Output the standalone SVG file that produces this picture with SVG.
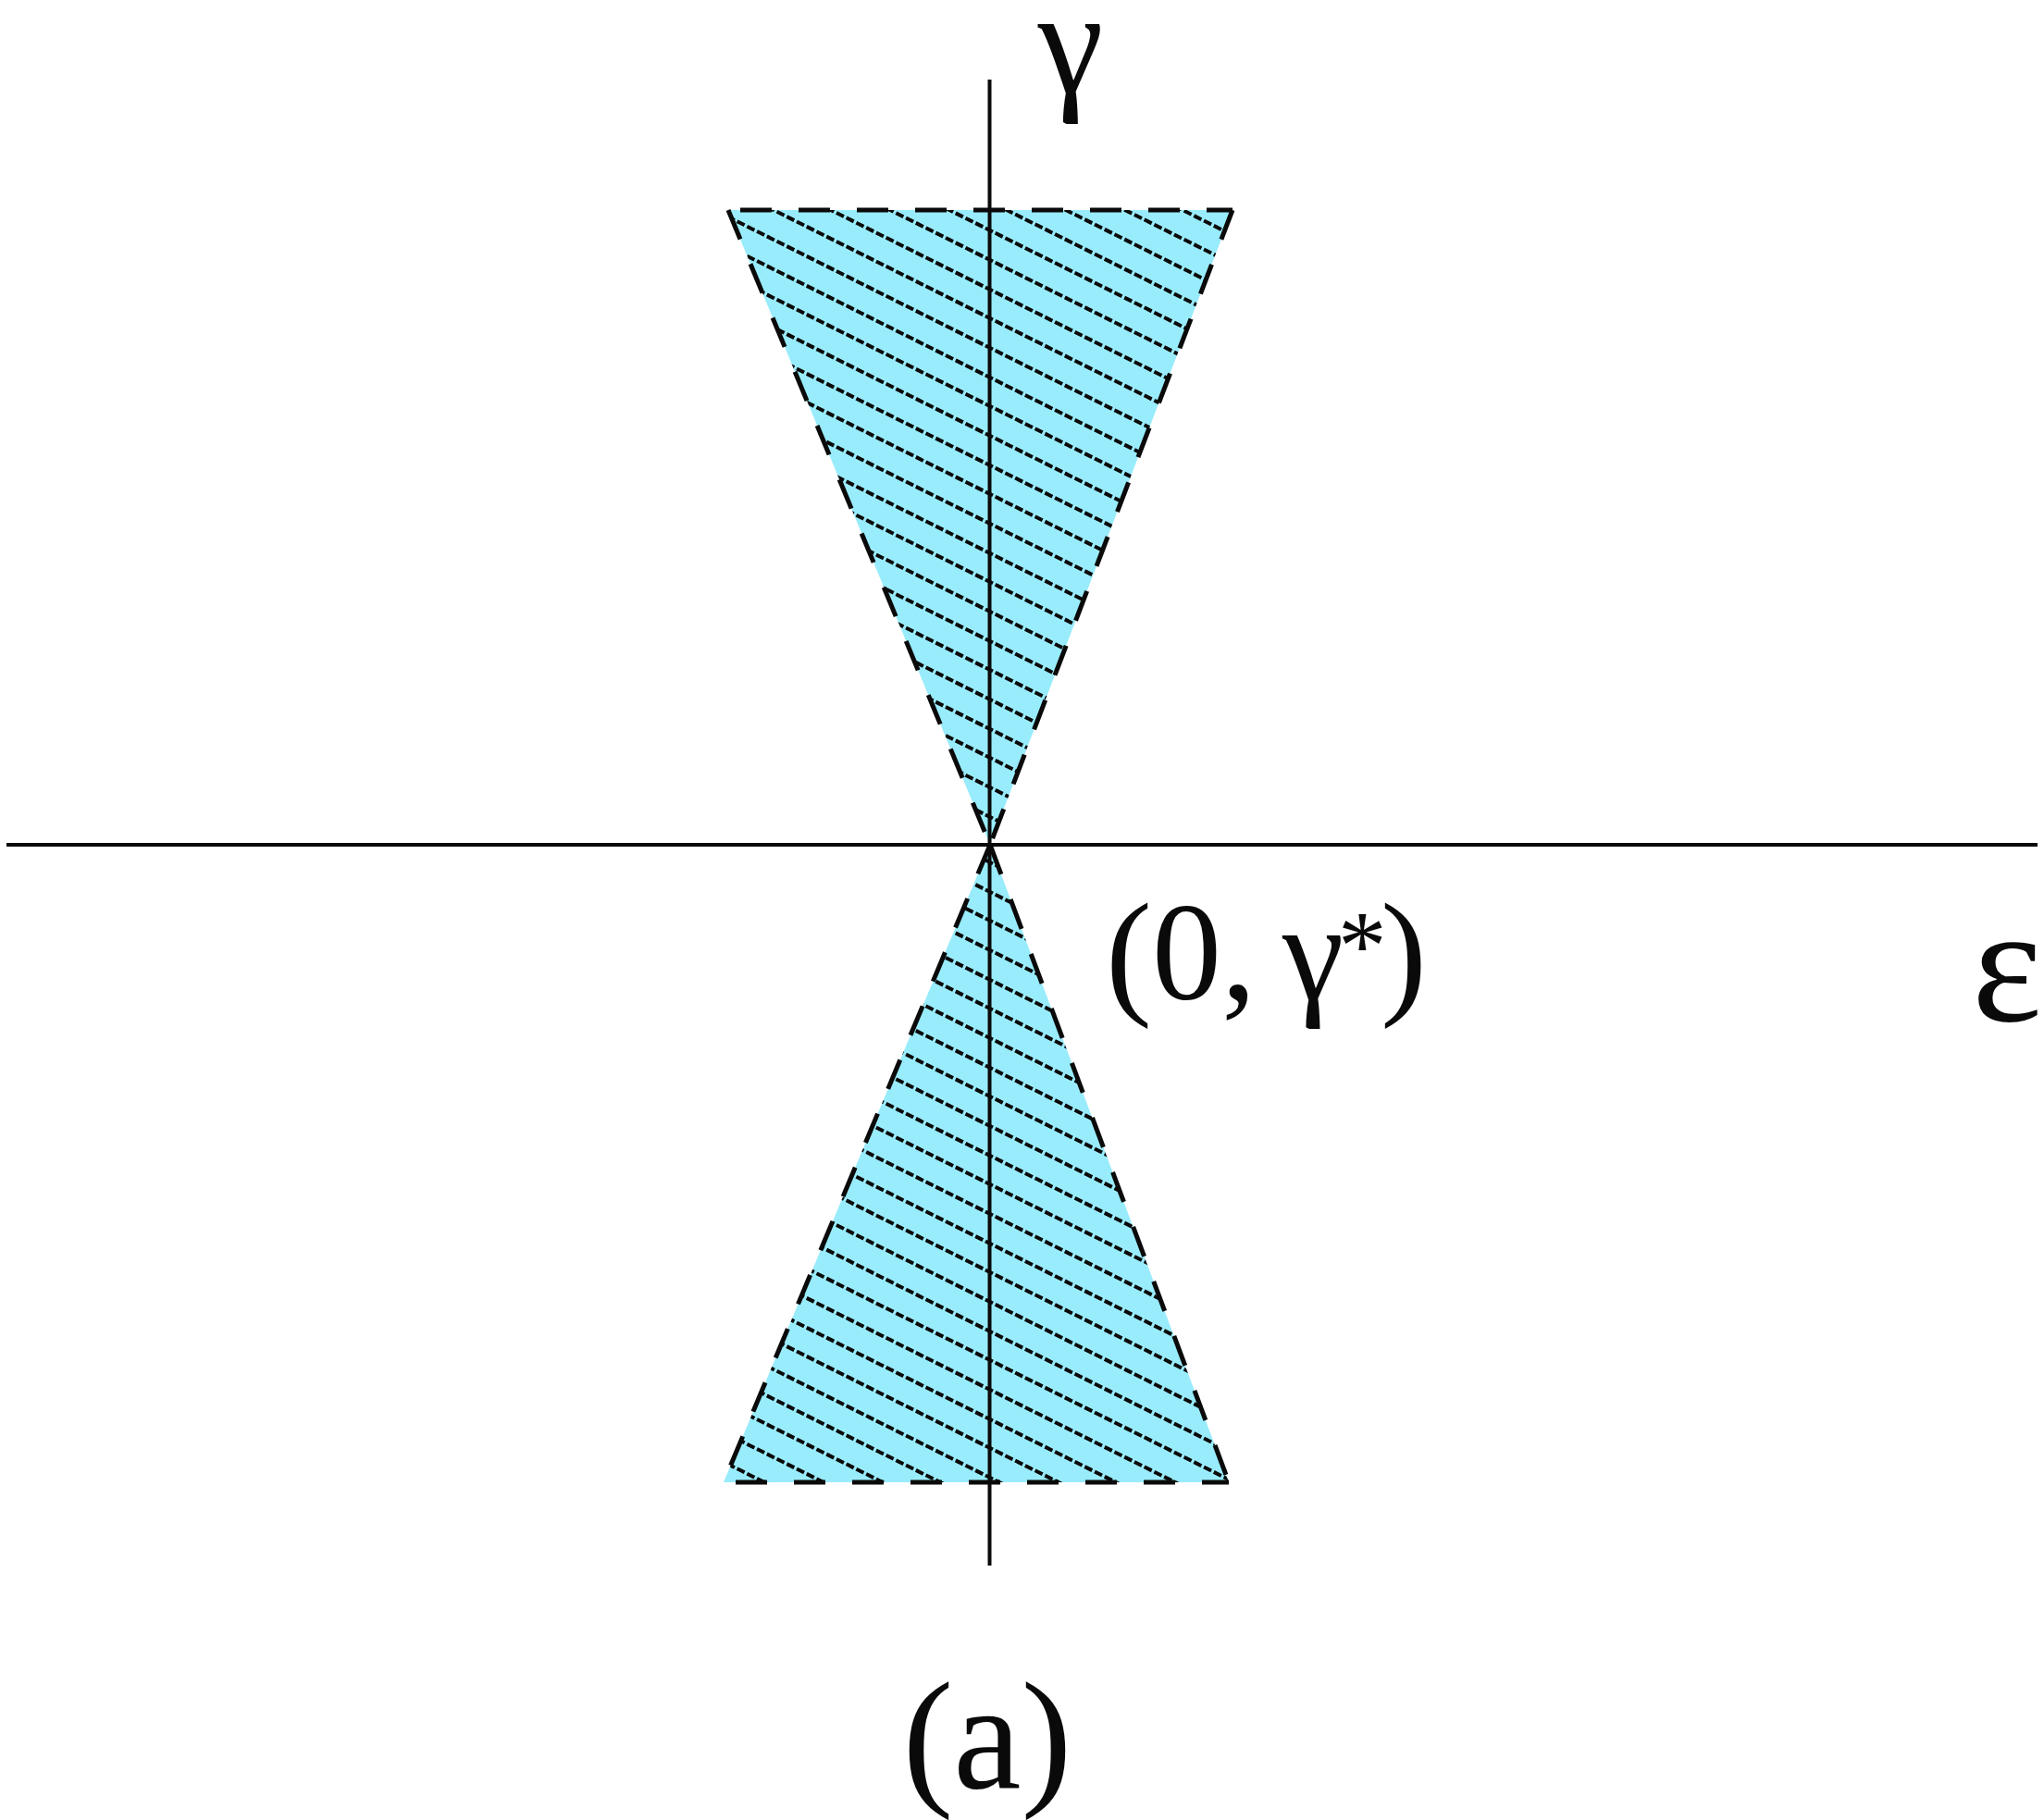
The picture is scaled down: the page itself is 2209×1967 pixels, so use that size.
<svg xmlns="http://www.w3.org/2000/svg" width="2209" height="1967" viewBox="0 0 2209 1967">
  <style>
    .fill { fill: #99ECFC; stroke: none; }
    .border { fill: none; stroke: #0a0a0a; stroke-width: 5; stroke-dasharray: 34 29; }
    .hatch { stroke: #0a0a0a; stroke-width: 4; stroke-dasharray: 9 3; fill: none; }
    .axis { stroke: #0a0a0a; stroke-width: 4; fill: none; }
    .lbl { fill: #0a0a0a; font-family: "Liberation Serif", "DejaVu Serif", serif; }
  </style>
  <defs>
    <clipPath id="clipUp"><polygon points="787,227 1332,227 1070,913"/></clipPath>
    <clipPath id="clipDown"><polygon points="1070,913 1328,1602 782,1602"/></clipPath>
  </defs>
  <rect width="2209" height="1967" fill="#ffffff"/>

  <g id="upper-region">
    <polygon class="fill" points="787,227 1332,227 1070,913"/>
    <g clip-path="url(#clipUp)">
      <path class="hatch" d="
        M700,-94 L1400,256 M700,-62 L1400,288 M700,-31 L1400,319 M700,1 L1400,351
        M700,33 L1400,383 M700,64 L1400,414 M700,96 L1400,446 M700,128 L1400,478
        M700,159 L1400,509 M700,191 L1400,541 M700,223 L1400,573 M700,254 L1400,604
        M700,286 L1400,636 M700,318 L1400,668 M700,349 L1400,699 M700,381 L1400,731
        M700,413 L1400,763 M700,444 L1400,794 M700,476 L1400,826 M700,508 L1400,858
        M700,539 L1400,889 M700,571 L1400,921 M700,603 L1400,953 M700,634 L1400,984
        M700,666 L1400,1016 M700,698 L1400,1048 M700,729 L1400,1079 M700,761 L1400,1111"/>
    </g>
    <polyline class="border" points="800,227 1332,227"/>
    <polyline class="border" points="787,227 1070,913"/>
    <polyline class="border" points="1332,227 1070,913"/>
  </g>

  <g id="lower-region">
    <polygon class="fill" points="1070,913 1328,1602 782,1602"/>
    <g clip-path="url(#clipDown)">
      <path class="hatch" d="
        M700,1570 L1400,1920 M700,1539 L1400,1889 M700,1507 L1400,1857 M700,1475 L1400,1825
        M700,1444 L1400,1794
        M700,1412 L1400,1762 M700,1380 L1400,1730 M700,1349 L1400,1699 M700,1317 L1400,1667
        M700,1285 L1400,1635 M700,1254 L1400,1604 M700,1222 L1400,1572 M700,1190 L1400,1540
        M700,1159 L1400,1509 M700,1127 L1400,1477 M700,1095 L1400,1445 M700,1064 L1400,1414
        M700,1032 L1400,1382 M700,1000 L1400,1350 M700,969 L1400,1319 M700,937 L1400,1287
        M700,905 L1400,1255 M700,874 L1400,1224 M700,842 L1400,1192 M700,810 L1400,1160
        M700,779 L1400,1129 M700,747 L1400,1097 M700,715 L1400,1065 M700,684 L1400,1034
        M700,652 L1400,1002 M700,620 L1400,970 M700,589 L1400,939 M700,557 L1400,907"/>
    </g>
    <polyline class="border" points="795,1602 1328,1602"/>
    <polyline class="border" points="1070,913 782,1602"/>
    <polyline class="border" points="1070,913 1328,1602"/>
  </g>

  <g id="axes">
    <line class="axis" x1="7" y1="913" x2="2202" y2="913"/>
    <line class="axis" x1="1069.5" y1="86" x2="1069.5" y2="1692"/>
  </g>

  <g id="labels">
    <text class="lbl" x="1157" y="100" font-size="160" text-anchor="middle">γ</text>
    <text class="lbl" x="1195" y="1080" font-size="150">(0,<tspan x="1386">γ</tspan><tspan x="1446" dy="-22" font-size="105">*</tspan><tspan x="1492" dy="22">)</tspan></text>
    <text class="lbl" x="2169" y="1103" font-size="180" text-anchor="middle">ε</text>
    <text class="lbl" x="1067" y="1932" font-size="165" text-anchor="middle">(a)</text>
  </g>
</svg>
